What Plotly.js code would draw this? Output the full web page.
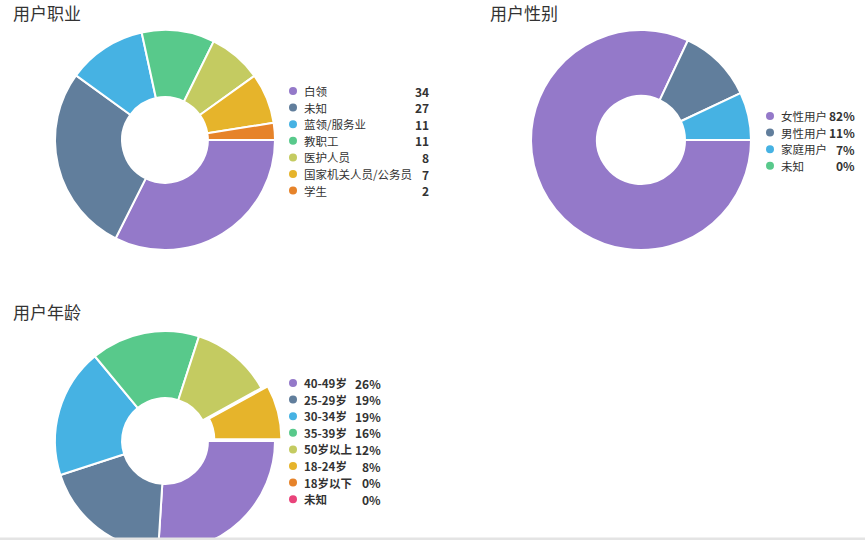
<!DOCTYPE html>
<html>
<head>
<meta charset="utf-8">
<script src="https://cdn.plot.ly/plotly-3.0.1.min.js"></script>
<style>
  html, body { margin: 0; padding: 0; overflow: hidden; background: #fff; }
  #chart { width: 865px; height: 580px; }
</style>
</head>
<body>
<div id="chart"></div>
<script>
    // 用户职业 (slice shares as drawn, legend text as printed)
    const job_labels = ['白领', '未知', '蓝领/服务业', '教职工', '医护人员', '国家机关人员/公务员', '学生'];
    const job_values = [32.4, 27.6, 11.6, 10.7, 7.8, 7.4, 2.5];
    const job_legend = ['34', '27', '11', '11', '8', '7', '2'];
    const job_colors = ['#9479c9', '#617e9c', '#46b2e3', '#58c98b', '#c4cb61', '#e6b42b', '#e6832a'];

    // 用户性别
    const sex_labels = ['女性用户', '男性用户', '家庭用户', '未知'];
    const sex_values = [82, 11, 7, 0];
    const sex_colors = ['#9479c9', '#617e9c', '#46b2e3', '#58c98b'];

    // 用户年龄
    const age_labels = ['40-49岁', '25-29岁', '30-34岁', '35-39岁', '50岁以上', '18-24岁', '18岁以下', '未知'];
    const age_values = [26, 19, 19, 16, 12, 8, 0, 0];
    const age_colors = ['#9479c9', '#617e9c', '#46b2e3', '#58c98b', '#c4cb61', '#e6b42b', '#e6832a', '#e9437a'];
    const age_pull = [0, 0, 0, 0, 0, 0.06, 0, 0];

    const W = 865, H = 580;
    const FONT = '"Noto Sans CJK SC", "Noto Sans", sans-serif';
    const px = x => x / W;
    const py = y => 1 - y / H;

    // domain so that the pie has centre (cx, cy) and radius r in pixels
    function dom(cx, cy, r, pull) {
        const h = r * (1 + (pull || 0));
        return {x: [px(cx - h), px(cx + h)], y: [py(cy + h), py(cy - h)]};
    }

    function pie(labels, values, colors, domain, hole, pull) {
        return {
            type: 'pie', labels: labels, values: values, sort: false,
            direction: 'clockwise', rotation: 90, hole: hole,
            domain: domain, pull: pull || 0, textinfo: 'none', showlegend: false,
            marker: {colors: colors, line: {color: '#fff', width: 2}}
        };
    }

    const traces = [
        pie(job_labels, job_values, job_colors, dom(165, 140, 110), 0.39),
        pie(sex_labels, sex_values, sex_colors, dom(641, 140, 110), 0.40),
        pie(age_labels, age_values, age_colors, dom(165, 441, 110, 0.06), 0.39, age_pull)
    ];

    const annotations = [];
    const shapes = [];

    function title(text, x, y) {
        annotations.push({text: text, x: px(x), y: py(y), xref: 'paper', yref: 'paper',
            xanchor: 'left', yanchor: 'middle', showarrow: false,
            font: {family: FONT, size: 17, color: '#333'}});
    }

    function legend(labels, texts, colors, dotX, y0, valRight, boldNames) {
        labels.forEach((lab, i) => {
            const y = y0 + i * 16.6;
            shapes.push({type: 'circle', xref: 'paper', yref: 'paper',
                xsizemode: 'pixel', ysizemode: 'pixel', xanchor: px(dotX), yanchor: py(y),
                x0: -4, x1: 4, y0: -4, y1: 4,
                fillcolor: colors[i], line: {width: 0}});
            annotations.push({text: boldNames ? '<b>' + lab + '</b>' : lab,
                x: px(dotX + 9), y: py(y), xref: 'paper', yref: 'paper',
                xanchor: 'left', yanchor: 'middle', showarrow: false,
                font: {family: FONT, size: 11.5, color: '#333'}});
            annotations.push({text: '<b>' + texts[i] + '</b>',
                x: px(valRight), y: py(y), xref: 'paper', yref: 'paper',
                xanchor: 'right', yanchor: 'middle', showarrow: false,
                font: {family: FONT, size: 12, color: '#333'}});
        });
    }

    title('用户职业', 11, 12);
    title('用户性别', 488, 12);
    title('用户年龄', 11, 311);

    legend(job_labels, job_legend, job_colors, 293, 91, 431, false);
    legend(sex_labels, sex_values.map(v => v + '%'), sex_colors, 770, 116, 857, false);
    legend(age_labels, age_values.map(v => v + '%'), age_colors, 293, 383, 383, true);

    // grey strip along the bottom edge of the window
    shapes.push({type: 'rect', xref: 'paper', yref: 'paper', x0: 0, x1: 1,
        y0: py(540), y1: py(537.5), fillcolor: '#e4e4e4', line: {width: 0}, layer: 'above'});

    const layout = {
        width: W, height: H,
        margin: {l: 0, r: 0, t: 0, b: 0},
        paper_bgcolor: '#fff',
        font: {family: FONT, color: '#333'},
        annotations: annotations,
        shapes: shapes
    };

    Plotly.newPlot('chart', traces, layout, {displayModeBar: false, staticPlot: true});
</script>
</body>
</html>
